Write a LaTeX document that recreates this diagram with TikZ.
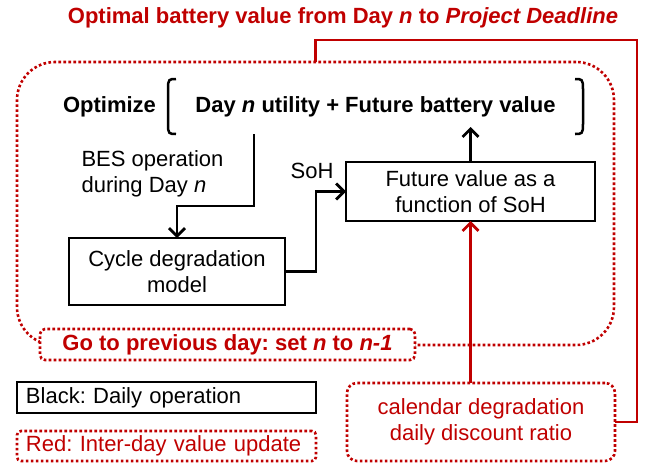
\documentclass[tikz,border=0pt]{standalone}
\usepackage{fontspec}
\setmainfont{Liberation Sans}
\usetikzlibrary{arrows.meta,calc}
\definecolor{dred}{RGB}{192,0,0}
\frenchspacing
\begin{document}
\begin{tikzpicture}[x=1pt,y=-1pt,
  every node/.style={font=\fontsize{22}{26}\selectfont, inner sep=0pt, outer sep=0pt},
  blk/.style={draw=black, line width=2.8pt, fill=white},
  dotline/.style={line width=2.6pt, dash pattern=on 2.6pt off 2.4pt},
  redbox/.style={draw=dred, dotline, fill=white, text=dred},
  redline/.style={draw=dred, line width=2.8pt},
  blkline/.style={draw=black, line width=2.8pt},
  tipv/.style={-{Straight Barb[length=8pt,width=16pt,line width=2.8pt]}},
  bold/.style={font=\fontsize{22}{26}\selectfont\bfseries}]
\useasboundingbox (0,0) rectangle (646,466);
% main dotted frame
\node (bigbox) [draw=dred, dotline, rounded corners=38pt, minimum width=597pt, minimum height=283pt] at (315.5,203.5) {};
% title
\node (title) [bold, text=dred] at (343,18) {Optimal battery value from Day \textit{n} to \textit{Project Deadline}};
% optimize
\node (opt) [bold] at (109.5,107) {Optimize};
\node (brk) [bold, minimum width=415pt, minimum height=55pt] at (375.5,106.5) {Day \textit{n} utility + Future battery value};
\draw[blkline, line width=2.5pt] ($(brk.north west)+(8,0)$) .. controls ($(brk.north west)+(1,0)$) and (brk.north west) .. ($(brk.north west)+(0,10)$) -- ($(brk.south west)+(0,-10)$) .. controls (brk.south west) and ($(brk.south west)+(1,0)$) .. ($(brk.south west)+(8,0)$);
\draw[blkline, line width=2.5pt] ($(brk.north east)+(-8,0)$) .. controls ($(brk.north east)+(-1,0)$) and (brk.north east) .. ($(brk.north east)+(0,10)$) -- ($(brk.south east)+(0,-10)$) .. controls (brk.south east) and ($(brk.south east)+(-1,0)$) .. ($(brk.south east)+(-8,0)$);
% labels
\node (bes) [align=left] at (152.5,173.5) {BES operation\\during Day \textit{n}};
\node (soh) at (312,171) {SoH};
% boxes
\node (cycle) [blk, align=center, minimum width=216pt, minimum height=67pt] at (177,271.5) {Cycle degradation\\model};
\node (future) [blk, align=center, minimum width=249pt, minimum height=59pt] at (470.5,191.5) {Future value as a\\function of SoH};
\node (go) [redbox, bold, rounded corners=5pt, minimum width=375pt, minimum height=31pt] at (227.5,344.5) {Go to previous day: set \textit{n} to \textit{n-1}};
\node (cal) [redbox, align=center, rounded corners=10pt, minimum width=268pt, minimum height=78pt] at (481,422) {calendar degradation\\daily discount ratio};
\node (legb) [blk, align=left, text width=281pt, minimum width=299pt, minimum height=31pt] at (166.5,397.5) {Black: Daily operation};
\node (legr) [redbox, align=left, text width=281pt, rounded corners=4pt, minimum width=299pt, minimum height=30pt] at (166.5,446) {Red: Inter-day value update};
% coordinates
\coordinate (tr) at (637,40);
\coordinate (opline) at (254,134);
\coordinate (bend) at (254,206);
\coordinate (fvtop) at (470.5,127);
% connectors
\draw[blkline, tipv] (opline) -- (bend) -| (cycle.north);
\draw[blkline, tipv] (cycle.east) -- ++(31,0) |- (future.west);
\draw[blkline, tipv] (future.north) -- (fvtop);
\draw[redline] (bigbox.north) |- (tr) -- (tr |- cal.east) -- (cal.east);
\draw[redline, tipv] (future.south |- cal.north) -- (future.south);
\end{tikzpicture}
\end{document}
